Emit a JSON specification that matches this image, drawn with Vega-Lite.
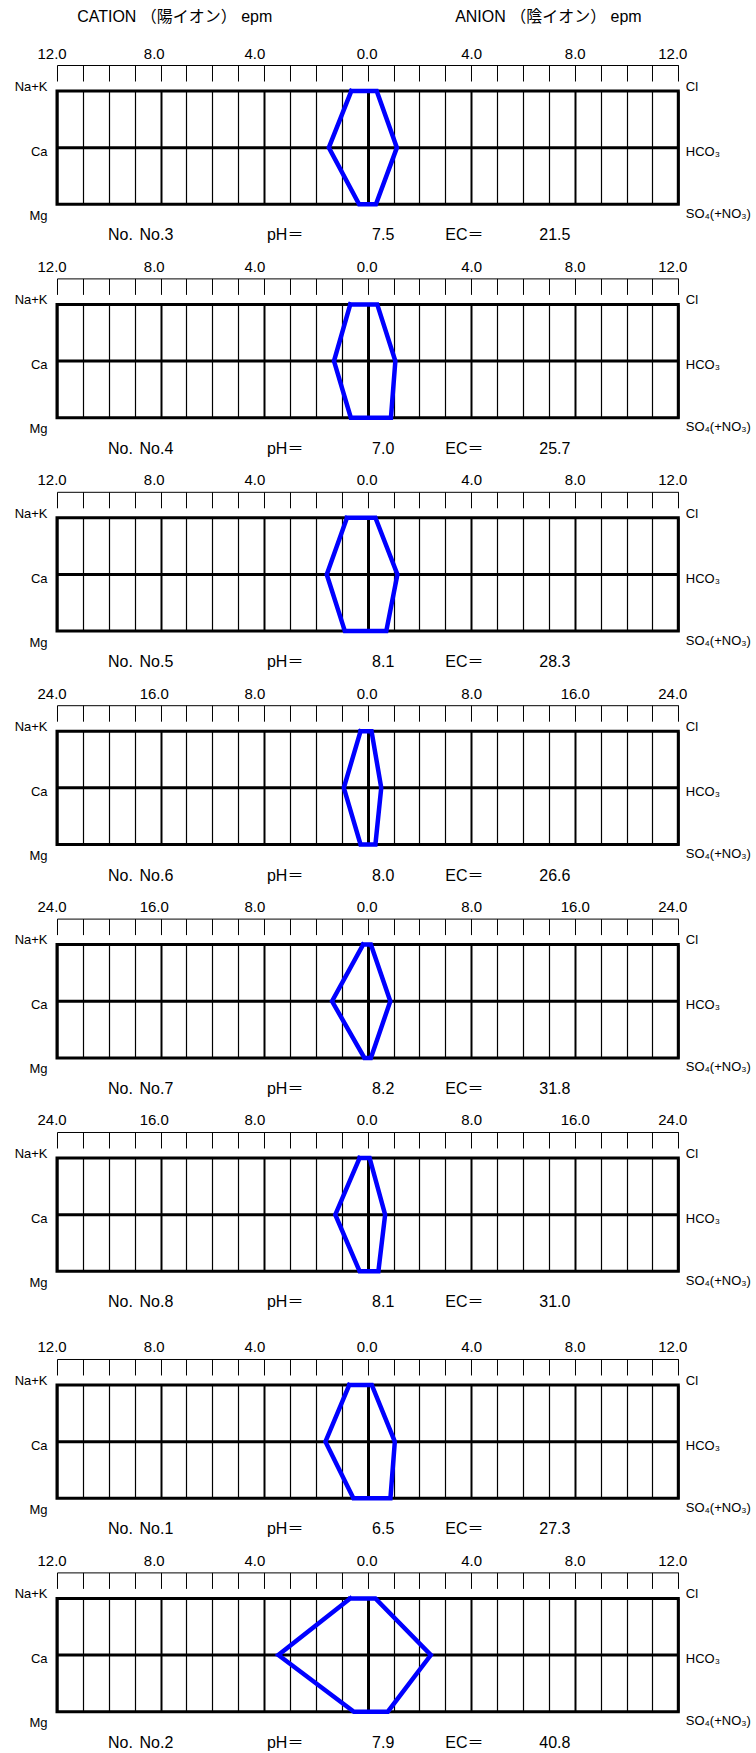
{
"$schema": "https://vega.github.io/schema/vega-lite/v6.json",
"padding": {"left": 12, "top": 7, "right": 5, "bottom": 5},
"datasets": {
"ions": [
{"panel":"No.3","ion":"Na+K","row":0,"epm":-0.63,"seq":1},{"panel":"No.3","ion":"Cl","row":0,"epm":0.35,"seq":2},{"panel":"No.3","ion":"HCO3","row":1,"epm":1.13,"seq":3},{"panel":"No.3","ion":"SO4","row":2,"epm":0.32,"seq":4},{"panel":"No.3","ion":"Mg","row":2,"epm":-0.33,"seq":5},{"panel":"No.3","ion":"Ca","row":1,"epm":-1.5,"seq":6},{"panel":"No.3","ion":"Na+K","row":0,"epm":-0.63,"seq":7},
{"panel":"No.4","ion":"Na+K","row":0,"epm":-0.67,"seq":1},{"panel":"No.4","ion":"Cl","row":0,"epm":0.37,"seq":2},{"panel":"No.4","ion":"HCO3","row":1,"epm":1.07,"seq":3},{"panel":"No.4","ion":"SO4","row":2,"epm":0.9,"seq":4},{"panel":"No.4","ion":"Mg","row":2,"epm":-0.65,"seq":5},{"panel":"No.4","ion":"Ca","row":1,"epm":-1.3,"seq":6},{"panel":"No.4","ion":"Na+K","row":0,"epm":-0.67,"seq":7},
{"panel":"No.5","ion":"Na+K","row":0,"epm":-0.8,"seq":1},{"panel":"No.5","ion":"Cl","row":0,"epm":0.3,"seq":2},{"panel":"No.5","ion":"HCO3","row":1,"epm":1.15,"seq":3},{"panel":"No.5","ion":"SO4","row":2,"epm":0.72,"seq":4},{"panel":"No.5","ion":"Mg","row":2,"epm":-0.88,"seq":5},{"panel":"No.5","ion":"Ca","row":1,"epm":-1.58,"seq":6},{"panel":"No.5","ion":"Na+K","row":0,"epm":-0.8,"seq":7},
{"panel":"No.6","ion":"Na+K","row":0,"epm":-0.55,"seq":1},{"panel":"No.6","ion":"Cl","row":0,"epm":0.3,"seq":2},{"panel":"No.6","ion":"HCO3","row":1,"epm":1.05,"seq":3},{"panel":"No.6","ion":"SO4","row":2,"epm":0.6,"seq":4},{"panel":"No.6","ion":"Mg","row":2,"epm":-0.55,"seq":5},{"panel":"No.6","ion":"Ca","row":1,"epm":-1.84,"seq":6},{"panel":"No.6","ion":"Na+K","row":0,"epm":-0.55,"seq":7},
{"panel":"No.7","ion":"Na+K","row":0,"epm":-0.35,"seq":1},{"panel":"No.7","ion":"Cl","row":0,"epm":0.25,"seq":2},{"panel":"No.7","ion":"HCO3","row":1,"epm":1.75,"seq":3},{"panel":"No.7","ion":"SO4","row":2,"epm":0.25,"seq":4},{"panel":"No.7","ion":"Mg","row":2,"epm":-0.25,"seq":5},{"panel":"No.7","ion":"Ca","row":1,"epm":-2.75,"seq":6},{"panel":"No.7","ion":"Na+K","row":0,"epm":-0.35,"seq":7},
{"panel":"No.8","ion":"Na+K","row":0,"epm":-0.62,"seq":1},{"panel":"No.8","ion":"Cl","row":0,"epm":0.15,"seq":2},{"panel":"No.8","ion":"HCO3","row":1,"epm":1.35,"seq":3},{"panel":"No.8","ion":"SO4","row":2,"epm":0.83,"seq":4},{"panel":"No.8","ion":"Mg","row":2,"epm":-0.62,"seq":5},{"panel":"No.8","ion":"Ca","row":1,"epm":-2.5,"seq":6},{"panel":"No.8","ion":"Na+K","row":0,"epm":-0.62,"seq":7},
{"panel":"No.1","ion":"Na+K","row":0,"epm":-0.71,"seq":1},{"panel":"No.1","ion":"Cl","row":0,"epm":0.16,"seq":2},{"panel":"No.1","ion":"HCO3","row":1,"epm":1.05,"seq":3},{"panel":"No.1","ion":"SO4","row":2,"epm":0.88,"seq":4},{"panel":"No.1","ion":"Mg","row":2,"epm":-0.55,"seq":5},{"panel":"No.1","ion":"Ca","row":1,"epm":-1.63,"seq":6},{"panel":"No.1","ion":"Na+K","row":0,"epm":-0.71,"seq":7},
{"panel":"No.2","ion":"Na+K","row":0,"epm":-0.67,"seq":1},{"panel":"No.2","ion":"Cl","row":0,"epm":0.3,"seq":2},{"panel":"No.2","ion":"HCO3","row":1,"epm":2.44,"seq":3},{"panel":"No.2","ion":"SO4","row":2,"epm":0.78,"seq":4},{"panel":"No.2","ion":"Mg","row":2,"epm":-0.53,"seq":5},{"panel":"No.2","ion":"Ca","row":1,"epm":-3.45,"seq":6},{"panel":"No.2","ion":"Na+K","row":0,"epm":-0.67,"seq":7}
],
"info": [
{"panel":"No.3","ph":7.5,"ec":21.5},
{"panel":"No.4","ph":7.0,"ec":25.7},
{"panel":"No.5","ph":8.1,"ec":28.3},
{"panel":"No.6","ph":8.0,"ec":26.6},
{"panel":"No.7","ph":8.2,"ec":31.8},
{"panel":"No.8","ph":8.1,"ec":31.0},
{"panel":"No.1","ph":6.5,"ec":27.3},
{"panel":"No.2","ph":7.9,"ec":40.8}
]
},
"config": {
"view": {"stroke": "black", "strokeWidth": 3},
"axis": {"labelFont": "'Liberation Sans', 'Noto Sans CJK JP', 'DejaVu Sans'", "labelColor": "black", "tickColor": "black", "domainColor": "black", "gridColor": "black", "gridOpacity": 1, "labelFlush": false, "labelBound": false, "labelOverlap": false},
"text": {"font": "'Liberation Sans', 'Noto Sans CJK JP', 'DejaVu Sans'", "color": "black", "fontSize": 16, "align": "left", "baseline": "middle"}
},
"spacing": 26,
"bounds": "full",
"vconcat": [
{"spacing": 99.4, "bounds": "flush", "vconcat": [

{"width": 621.3, "height": 113.3, "resolve": {"axis": {"x": "independent", "y": "independent"}},
"layer": [
{"data": {"name": "info"}, "transform": [{"filter": "datum.panel === 'No.3'"}],
"mark": {"type": "rule", "color": "black", "strokeWidth": 3}, "encoding": {"y": {"datum": 1, "type": "quantitative", "axis": {"orient": "right", "title": null, "values": [0,1,2], "ticks": false, "domain": false, "grid": false, "labelPadding": 7, "labelFontSize": 13, "labelExpr": "datum.value == 0 ? 'Cl' : datum.value == 1 ? 'HCO₃' : 'SO₄(+NO₃)'", "labelOffset": {"condition": [{"test": "datum.value == 0", "value": -4.7}, {"test": "datum.value == 1", "value": 3.7}], "value": 9}}}}},
{"data": {"name": "info"}, "transform": [{"filter": "datum.panel === 'No.3'"}],
"layer": [
{"mark": {"type": "text"}, "encoding": {"x": {"datum": -11.22, "type": "quantitative", "axis": null}, "y": {"datum": -1.3, "type": "quantitative", "axis": null}, "text": {"value": "CATION （陽イオン） epm"}}},
{"mark": {"type": "text"}, "encoding": {"x": {"datum": 3.38, "type": "quantitative", "axis": null}, "y": {"datum": -1.3, "type": "quantitative", "axis": null}, "text": {"value": "ANION （陰イオン） epm"}}},
{"mark": {"type": "text"}, "encoding": {"x": {"datum": -10.03, "type": "quantitative", "axis": null}, "y": {"datum": 2.55, "type": "quantitative", "axis": null}, "text": {"value": "No."}}},
{"mark": {"type": "text"}, "encoding": {"x": {"datum": -8.81, "type": "quantitative", "axis": null}, "y": {"datum": 2.55, "type": "quantitative", "axis": null}, "text": {"field": "panel"}}},
{"mark": {"type": "text"}, "encoding": {"x": {"datum": -3.89, "type": "quantitative", "axis": null}, "y": {"datum": 2.55, "type": "quantitative", "axis": null}, "text": {"value": "pH＝"}}},
{"mark": {"type": "text"}, "encoding": {"x": {"datum": 0.17, "type": "quantitative", "axis": null}, "y": {"datum": 2.55, "type": "quantitative", "axis": null}, "text": {"field": "ph", "format": ".1f"}}},
{"mark": {"type": "text"}, "encoding": {"x": {"datum": 3.0, "type": "quantitative", "axis": null}, "y": {"datum": 2.55, "type": "quantitative", "axis": null}, "text": {"value": "EC＝"}}},
{"mark": {"type": "text"}, "encoding": {"x": {"datum": 6.63, "type": "quantitative", "axis": null}, "y": {"datum": 2.55, "type": "quantitative", "axis": null}, "text": {"field": "ec", "format": ".1f"}}}
]},
{"data": {"name": "ions"}, "transform": [{"filter": "datum.panel === 'No.3'"}],
"mark": {"type": "line", "color": "#0000ff", "strokeWidth": 4.5, "strokeJoin": "miter", "strokeCap": "square"},
"encoding": {
"x": {"field": "epm", "type": "quantitative", "scale": {"domain": [-12, 12], "nice": false, "zero": false}, "axis": {"orient": "top", "title": null, "values": [-12,-11,-10,-9,-8,-7,-6,-5,-4,-3,-2,-1,0,1,2,3,4,5,6,7,8,9,10,11,12], "offset": 26, "tickSize": -16, "tickWidth": 1, "domainWidth": 1, "labelPadding": 20, "labelFontSize": 15, "labelExpr": "datum.value % 4 == 0 ? format(abs(datum.value), '.1f') : ''", "labelOffset": {"condition": [{"test": "datum.value == -12", "value": -5.4}, {"test": "datum.value == -8", "value": -6.8}, {"test": "datum.value == -4", "value": -9.7}, {"test": "datum.value == 0", "value": -1}, {"test": "datum.value == 12", "value": -6}], "value": 0}, "grid": true, "gridWidth": {"condition": [{"test": "datum.value == 0", "value": 3}, {"test": "datum.value % 4 == 0", "value": 2}], "value": 1.2}}},
"y": {"field": "row", "type": "quantitative", "scale": {"domain": [0, 2], "reverse": true, "nice": false, "zero": false}, "axis": {"orient": "left", "title": null, "values": [0,1,2], "ticks": false, "domain": false, "grid": false, "labelPadding": 10, "labelFontSize": 13, "labelExpr": "datum.value == 0 ? 'Na+K' : datum.value == 1 ? 'Ca' : 'Mg'", "labelOffset": {"condition": [{"test": "datum.value == 0", "value": -4.7}, {"test": "datum.value == 1", "value": 3.7}], "value": 11}}},
"order": {"field": "seq", "type": "quantitative"}
}}
]},

{"width": 621.3, "height": 113.3, "resolve": {"axis": {"x": "independent", "y": "independent"}},
"layer": [
{"data": {"name": "info"}, "transform": [{"filter": "datum.panel === 'No.4'"}],
"mark": {"type": "rule", "color": "black", "strokeWidth": 3}, "encoding": {"y": {"datum": 1, "type": "quantitative", "axis": {"orient": "right", "title": null, "values": [0,1,2], "ticks": false, "domain": false, "grid": false, "labelPadding": 7, "labelFontSize": 13, "labelExpr": "datum.value == 0 ? 'Cl' : datum.value == 1 ? 'HCO₃' : 'SO₄(+NO₃)'", "labelOffset": {"condition": [{"test": "datum.value == 0", "value": -4.7}, {"test": "datum.value == 1", "value": 3.7}], "value": 9}}}}},
{"data": {"name": "info"}, "transform": [{"filter": "datum.panel === 'No.4'"}],
"layer": [
{"mark": {"type": "text"}, "encoding": {"x": {"datum": -10.03, "type": "quantitative", "axis": null}, "y": {"datum": 2.55, "type": "quantitative", "axis": null}, "text": {"value": "No."}}},
{"mark": {"type": "text"}, "encoding": {"x": {"datum": -8.81, "type": "quantitative", "axis": null}, "y": {"datum": 2.55, "type": "quantitative", "axis": null}, "text": {"field": "panel"}}},
{"mark": {"type": "text"}, "encoding": {"x": {"datum": -3.89, "type": "quantitative", "axis": null}, "y": {"datum": 2.55, "type": "quantitative", "axis": null}, "text": {"value": "pH＝"}}},
{"mark": {"type": "text"}, "encoding": {"x": {"datum": 0.17, "type": "quantitative", "axis": null}, "y": {"datum": 2.55, "type": "quantitative", "axis": null}, "text": {"field": "ph", "format": ".1f"}}},
{"mark": {"type": "text"}, "encoding": {"x": {"datum": 3.0, "type": "quantitative", "axis": null}, "y": {"datum": 2.55, "type": "quantitative", "axis": null}, "text": {"value": "EC＝"}}},
{"mark": {"type": "text"}, "encoding": {"x": {"datum": 6.63, "type": "quantitative", "axis": null}, "y": {"datum": 2.55, "type": "quantitative", "axis": null}, "text": {"field": "ec", "format": ".1f"}}}
]},
{"data": {"name": "ions"}, "transform": [{"filter": "datum.panel === 'No.4'"}],
"mark": {"type": "line", "color": "#0000ff", "strokeWidth": 4.5, "strokeJoin": "miter", "strokeCap": "square"},
"encoding": {
"x": {"field": "epm", "type": "quantitative", "scale": {"domain": [-12, 12], "nice": false, "zero": false}, "axis": {"orient": "top", "title": null, "values": [-12,-11,-10,-9,-8,-7,-6,-5,-4,-3,-2,-1,0,1,2,3,4,5,6,7,8,9,10,11,12], "offset": 26, "tickSize": -16, "tickWidth": 1, "domainWidth": 1, "labelPadding": 20, "labelFontSize": 15, "labelExpr": "datum.value % 4 == 0 ? format(abs(datum.value), '.1f') : ''", "labelOffset": {"condition": [{"test": "datum.value == -12", "value": -5.4}, {"test": "datum.value == -8", "value": -6.8}, {"test": "datum.value == -4", "value": -9.7}, {"test": "datum.value == 0", "value": -1}, {"test": "datum.value == 12", "value": -6}], "value": 0}, "grid": true, "gridWidth": {"condition": [{"test": "datum.value == 0", "value": 3}, {"test": "datum.value % 4 == 0", "value": 2}], "value": 1.2}}},
"y": {"field": "row", "type": "quantitative", "scale": {"domain": [0, 2], "reverse": true, "nice": false, "zero": false}, "axis": {"orient": "left", "title": null, "values": [0,1,2], "ticks": false, "domain": false, "grid": false, "labelPadding": 10, "labelFontSize": 13, "labelExpr": "datum.value == 0 ? 'Na+K' : datum.value == 1 ? 'Ca' : 'Mg'", "labelOffset": {"condition": [{"test": "datum.value == 0", "value": -4.7}, {"test": "datum.value == 1", "value": 3.7}], "value": 11}}},
"order": {"field": "seq", "type": "quantitative"}
}}
]},

{"width": 621.3, "height": 113.3, "resolve": {"axis": {"x": "independent", "y": "independent"}},
"layer": [
{"data": {"name": "info"}, "transform": [{"filter": "datum.panel === 'No.5'"}],
"mark": {"type": "rule", "color": "black", "strokeWidth": 3}, "encoding": {"y": {"datum": 1, "type": "quantitative", "axis": {"orient": "right", "title": null, "values": [0,1,2], "ticks": false, "domain": false, "grid": false, "labelPadding": 7, "labelFontSize": 13, "labelExpr": "datum.value == 0 ? 'Cl' : datum.value == 1 ? 'HCO₃' : 'SO₄(+NO₃)'", "labelOffset": {"condition": [{"test": "datum.value == 0", "value": -4.7}, {"test": "datum.value == 1", "value": 3.7}], "value": 9}}}}},
{"data": {"name": "info"}, "transform": [{"filter": "datum.panel === 'No.5'"}],
"layer": [
{"mark": {"type": "text"}, "encoding": {"x": {"datum": -10.03, "type": "quantitative", "axis": null}, "y": {"datum": 2.55, "type": "quantitative", "axis": null}, "text": {"value": "No."}}},
{"mark": {"type": "text"}, "encoding": {"x": {"datum": -8.81, "type": "quantitative", "axis": null}, "y": {"datum": 2.55, "type": "quantitative", "axis": null}, "text": {"field": "panel"}}},
{"mark": {"type": "text"}, "encoding": {"x": {"datum": -3.89, "type": "quantitative", "axis": null}, "y": {"datum": 2.55, "type": "quantitative", "axis": null}, "text": {"value": "pH＝"}}},
{"mark": {"type": "text"}, "encoding": {"x": {"datum": 0.17, "type": "quantitative", "axis": null}, "y": {"datum": 2.55, "type": "quantitative", "axis": null}, "text": {"field": "ph", "format": ".1f"}}},
{"mark": {"type": "text"}, "encoding": {"x": {"datum": 3.0, "type": "quantitative", "axis": null}, "y": {"datum": 2.55, "type": "quantitative", "axis": null}, "text": {"value": "EC＝"}}},
{"mark": {"type": "text"}, "encoding": {"x": {"datum": 6.63, "type": "quantitative", "axis": null}, "y": {"datum": 2.55, "type": "quantitative", "axis": null}, "text": {"field": "ec", "format": ".1f"}}}
]},
{"data": {"name": "ions"}, "transform": [{"filter": "datum.panel === 'No.5'"}],
"mark": {"type": "line", "color": "#0000ff", "strokeWidth": 4.5, "strokeJoin": "miter", "strokeCap": "square"},
"encoding": {
"x": {"field": "epm", "type": "quantitative", "scale": {"domain": [-12, 12], "nice": false, "zero": false}, "axis": {"orient": "top", "title": null, "values": [-12,-11,-10,-9,-8,-7,-6,-5,-4,-3,-2,-1,0,1,2,3,4,5,6,7,8,9,10,11,12], "offset": 26, "tickSize": -16, "tickWidth": 1, "domainWidth": 1, "labelPadding": 20, "labelFontSize": 15, "labelExpr": "datum.value % 4 == 0 ? format(abs(datum.value), '.1f') : ''", "labelOffset": {"condition": [{"test": "datum.value == -12", "value": -5.4}, {"test": "datum.value == -8", "value": -6.8}, {"test": "datum.value == -4", "value": -9.7}, {"test": "datum.value == 0", "value": -1}, {"test": "datum.value == 12", "value": -6}], "value": 0}, "grid": true, "gridWidth": {"condition": [{"test": "datum.value == 0", "value": 3}, {"test": "datum.value % 4 == 0", "value": 2}], "value": 1.2}}},
"y": {"field": "row", "type": "quantitative", "scale": {"domain": [0, 2], "reverse": true, "nice": false, "zero": false}, "axis": {"orient": "left", "title": null, "values": [0,1,2], "ticks": false, "domain": false, "grid": false, "labelPadding": 10, "labelFontSize": 13, "labelExpr": "datum.value == 0 ? 'Na+K' : datum.value == 1 ? 'Ca' : 'Mg'", "labelOffset": {"condition": [{"test": "datum.value == 0", "value": -4.7}, {"test": "datum.value == 1", "value": 3.7}], "value": 11}}},
"order": {"field": "seq", "type": "quantitative"}
}}
]},

{"width": 621.3, "height": 113.3, "resolve": {"axis": {"x": "independent", "y": "independent"}},
"layer": [
{"data": {"name": "info"}, "transform": [{"filter": "datum.panel === 'No.6'"}],
"mark": {"type": "rule", "color": "black", "strokeWidth": 3}, "encoding": {"y": {"datum": 1, "type": "quantitative", "axis": {"orient": "right", "title": null, "values": [0,1,2], "ticks": false, "domain": false, "grid": false, "labelPadding": 7, "labelFontSize": 13, "labelExpr": "datum.value == 0 ? 'Cl' : datum.value == 1 ? 'HCO₃' : 'SO₄(+NO₃)'", "labelOffset": {"condition": [{"test": "datum.value == 0", "value": -4.7}, {"test": "datum.value == 1", "value": 3.7}], "value": 9}}}}},
{"data": {"name": "info"}, "transform": [{"filter": "datum.panel === 'No.6'"}],
"layer": [
{"mark": {"type": "text"}, "encoding": {"x": {"datum": -20.06, "type": "quantitative", "axis": null}, "y": {"datum": 2.55, "type": "quantitative", "axis": null}, "text": {"value": "No."}}},
{"mark": {"type": "text"}, "encoding": {"x": {"datum": -17.62, "type": "quantitative", "axis": null}, "y": {"datum": 2.55, "type": "quantitative", "axis": null}, "text": {"field": "panel"}}},
{"mark": {"type": "text"}, "encoding": {"x": {"datum": -7.78, "type": "quantitative", "axis": null}, "y": {"datum": 2.55, "type": "quantitative", "axis": null}, "text": {"value": "pH＝"}}},
{"mark": {"type": "text"}, "encoding": {"x": {"datum": 0.34, "type": "quantitative", "axis": null}, "y": {"datum": 2.55, "type": "quantitative", "axis": null}, "text": {"field": "ph", "format": ".1f"}}},
{"mark": {"type": "text"}, "encoding": {"x": {"datum": 6.0, "type": "quantitative", "axis": null}, "y": {"datum": 2.55, "type": "quantitative", "axis": null}, "text": {"value": "EC＝"}}},
{"mark": {"type": "text"}, "encoding": {"x": {"datum": 13.26, "type": "quantitative", "axis": null}, "y": {"datum": 2.55, "type": "quantitative", "axis": null}, "text": {"field": "ec", "format": ".1f"}}}
]},
{"data": {"name": "ions"}, "transform": [{"filter": "datum.panel === 'No.6'"}],
"mark": {"type": "line", "color": "#0000ff", "strokeWidth": 4.5, "strokeJoin": "miter", "strokeCap": "square"},
"encoding": {
"x": {"field": "epm", "type": "quantitative", "scale": {"domain": [-24, 24], "nice": false, "zero": false}, "axis": {"orient": "top", "title": null, "values": [-24,-22,-20,-18,-16,-14,-12,-10,-8,-6,-4,-2,0,2,4,6,8,10,12,14,16,18,20,22,24], "offset": 26, "tickSize": -16, "tickWidth": 1, "domainWidth": 1, "labelPadding": 20, "labelFontSize": 15, "labelExpr": "datum.value % 8 == 0 ? format(abs(datum.value), '.1f') : ''", "labelOffset": {"condition": [{"test": "datum.value == -24", "value": -5.4}, {"test": "datum.value == -16", "value": -6.8}, {"test": "datum.value == -8", "value": -9.7}, {"test": "datum.value == 0", "value": -1}, {"test": "datum.value == 24", "value": -6}], "value": 0}, "grid": true, "gridWidth": {"condition": [{"test": "datum.value == 0", "value": 3}, {"test": "datum.value % 8 == 0", "value": 2}], "value": 1.2}}},
"y": {"field": "row", "type": "quantitative", "scale": {"domain": [0, 2], "reverse": true, "nice": false, "zero": false}, "axis": {"orient": "left", "title": null, "values": [0,1,2], "ticks": false, "domain": false, "grid": false, "labelPadding": 10, "labelFontSize": 13, "labelExpr": "datum.value == 0 ? 'Na+K' : datum.value == 1 ? 'Ca' : 'Mg'", "labelOffset": {"condition": [{"test": "datum.value == 0", "value": -4.7}, {"test": "datum.value == 1", "value": 3.7}], "value": 11}}},
"order": {"field": "seq", "type": "quantitative"}
}}
]},

{"width": 621.3, "height": 113.3, "resolve": {"axis": {"x": "independent", "y": "independent"}},
"layer": [
{"data": {"name": "info"}, "transform": [{"filter": "datum.panel === 'No.7'"}],
"mark": {"type": "rule", "color": "black", "strokeWidth": 3}, "encoding": {"y": {"datum": 1, "type": "quantitative", "axis": {"orient": "right", "title": null, "values": [0,1,2], "ticks": false, "domain": false, "grid": false, "labelPadding": 7, "labelFontSize": 13, "labelExpr": "datum.value == 0 ? 'Cl' : datum.value == 1 ? 'HCO₃' : 'SO₄(+NO₃)'", "labelOffset": {"condition": [{"test": "datum.value == 0", "value": -4.7}, {"test": "datum.value == 1", "value": 3.7}], "value": 9}}}}},
{"data": {"name": "info"}, "transform": [{"filter": "datum.panel === 'No.7'"}],
"layer": [
{"mark": {"type": "text"}, "encoding": {"x": {"datum": -20.06, "type": "quantitative", "axis": null}, "y": {"datum": 2.55, "type": "quantitative", "axis": null}, "text": {"value": "No."}}},
{"mark": {"type": "text"}, "encoding": {"x": {"datum": -17.62, "type": "quantitative", "axis": null}, "y": {"datum": 2.55, "type": "quantitative", "axis": null}, "text": {"field": "panel"}}},
{"mark": {"type": "text"}, "encoding": {"x": {"datum": -7.78, "type": "quantitative", "axis": null}, "y": {"datum": 2.55, "type": "quantitative", "axis": null}, "text": {"value": "pH＝"}}},
{"mark": {"type": "text"}, "encoding": {"x": {"datum": 0.34, "type": "quantitative", "axis": null}, "y": {"datum": 2.55, "type": "quantitative", "axis": null}, "text": {"field": "ph", "format": ".1f"}}},
{"mark": {"type": "text"}, "encoding": {"x": {"datum": 6.0, "type": "quantitative", "axis": null}, "y": {"datum": 2.55, "type": "quantitative", "axis": null}, "text": {"value": "EC＝"}}},
{"mark": {"type": "text"}, "encoding": {"x": {"datum": 13.26, "type": "quantitative", "axis": null}, "y": {"datum": 2.55, "type": "quantitative", "axis": null}, "text": {"field": "ec", "format": ".1f"}}}
]},
{"data": {"name": "ions"}, "transform": [{"filter": "datum.panel === 'No.7'"}],
"mark": {"type": "line", "color": "#0000ff", "strokeWidth": 4.5, "strokeJoin": "miter", "strokeCap": "square"},
"encoding": {
"x": {"field": "epm", "type": "quantitative", "scale": {"domain": [-24, 24], "nice": false, "zero": false}, "axis": {"orient": "top", "title": null, "values": [-24,-22,-20,-18,-16,-14,-12,-10,-8,-6,-4,-2,0,2,4,6,8,10,12,14,16,18,20,22,24], "offset": 26, "tickSize": -16, "tickWidth": 1, "domainWidth": 1, "labelPadding": 20, "labelFontSize": 15, "labelExpr": "datum.value % 8 == 0 ? format(abs(datum.value), '.1f') : ''", "labelOffset": {"condition": [{"test": "datum.value == -24", "value": -5.4}, {"test": "datum.value == -16", "value": -6.8}, {"test": "datum.value == -8", "value": -9.7}, {"test": "datum.value == 0", "value": -1}, {"test": "datum.value == 24", "value": -6}], "value": 0}, "grid": true, "gridWidth": {"condition": [{"test": "datum.value == 0", "value": 3}, {"test": "datum.value % 8 == 0", "value": 2}], "value": 1.2}}},
"y": {"field": "row", "type": "quantitative", "scale": {"domain": [0, 2], "reverse": true, "nice": false, "zero": false}, "axis": {"orient": "left", "title": null, "values": [0,1,2], "ticks": false, "domain": false, "grid": false, "labelPadding": 10, "labelFontSize": 13, "labelExpr": "datum.value == 0 ? 'Na+K' : datum.value == 1 ? 'Ca' : 'Mg'", "labelOffset": {"condition": [{"test": "datum.value == 0", "value": -4.7}, {"test": "datum.value == 1", "value": 3.7}], "value": 11}}},
"order": {"field": "seq", "type": "quantitative"}
}}
]},

{"width": 621.3, "height": 113.3, "resolve": {"axis": {"x": "independent", "y": "independent"}},
"layer": [
{"data": {"name": "info"}, "transform": [{"filter": "datum.panel === 'No.8'"}],
"mark": {"type": "rule", "color": "black", "strokeWidth": 3}, "encoding": {"y": {"datum": 1, "type": "quantitative", "axis": {"orient": "right", "title": null, "values": [0,1,2], "ticks": false, "domain": false, "grid": false, "labelPadding": 7, "labelFontSize": 13, "labelExpr": "datum.value == 0 ? 'Cl' : datum.value == 1 ? 'HCO₃' : 'SO₄(+NO₃)'", "labelOffset": {"condition": [{"test": "datum.value == 0", "value": -4.7}, {"test": "datum.value == 1", "value": 3.7}], "value": 9}}}}},
{"data": {"name": "info"}, "transform": [{"filter": "datum.panel === 'No.8'"}],
"layer": [
{"mark": {"type": "text"}, "encoding": {"x": {"datum": -20.06, "type": "quantitative", "axis": null}, "y": {"datum": 2.55, "type": "quantitative", "axis": null}, "text": {"value": "No."}}},
{"mark": {"type": "text"}, "encoding": {"x": {"datum": -17.62, "type": "quantitative", "axis": null}, "y": {"datum": 2.55, "type": "quantitative", "axis": null}, "text": {"field": "panel"}}},
{"mark": {"type": "text"}, "encoding": {"x": {"datum": -7.78, "type": "quantitative", "axis": null}, "y": {"datum": 2.55, "type": "quantitative", "axis": null}, "text": {"value": "pH＝"}}},
{"mark": {"type": "text"}, "encoding": {"x": {"datum": 0.34, "type": "quantitative", "axis": null}, "y": {"datum": 2.55, "type": "quantitative", "axis": null}, "text": {"field": "ph", "format": ".1f"}}},
{"mark": {"type": "text"}, "encoding": {"x": {"datum": 6.0, "type": "quantitative", "axis": null}, "y": {"datum": 2.55, "type": "quantitative", "axis": null}, "text": {"value": "EC＝"}}},
{"mark": {"type": "text"}, "encoding": {"x": {"datum": 13.26, "type": "quantitative", "axis": null}, "y": {"datum": 2.55, "type": "quantitative", "axis": null}, "text": {"field": "ec", "format": ".1f"}}}
]},
{"data": {"name": "ions"}, "transform": [{"filter": "datum.panel === 'No.8'"}],
"mark": {"type": "line", "color": "#0000ff", "strokeWidth": 4.5, "strokeJoin": "miter", "strokeCap": "square"},
"encoding": {
"x": {"field": "epm", "type": "quantitative", "scale": {"domain": [-24, 24], "nice": false, "zero": false}, "axis": {"orient": "top", "title": null, "values": [-24,-22,-20,-18,-16,-14,-12,-10,-8,-6,-4,-2,0,2,4,6,8,10,12,14,16,18,20,22,24], "offset": 26, "tickSize": -16, "tickWidth": 1, "domainWidth": 1, "labelPadding": 20, "labelFontSize": 15, "labelExpr": "datum.value % 8 == 0 ? format(abs(datum.value), '.1f') : ''", "labelOffset": {"condition": [{"test": "datum.value == -24", "value": -5.4}, {"test": "datum.value == -16", "value": -6.8}, {"test": "datum.value == -8", "value": -9.7}, {"test": "datum.value == 0", "value": -1}, {"test": "datum.value == 24", "value": -6}], "value": 0}, "grid": true, "gridWidth": {"condition": [{"test": "datum.value == 0", "value": 3}, {"test": "datum.value % 8 == 0", "value": 2}], "value": 1.2}}},
"y": {"field": "row", "type": "quantitative", "scale": {"domain": [0, 2], "reverse": true, "nice": false, "zero": false}, "axis": {"orient": "left", "title": null, "values": [0,1,2], "ticks": false, "domain": false, "grid": false, "labelPadding": 10, "labelFontSize": 13, "labelExpr": "datum.value == 0 ? 'Na+K' : datum.value == 1 ? 'Ca' : 'Mg'", "labelOffset": {"condition": [{"test": "datum.value == 0", "value": -4.7}, {"test": "datum.value == 1", "value": 3.7}], "value": 11}}},
"order": {"field": "seq", "type": "quantitative"}
}}
]}
]},

{"spacing": 99.4, "bounds": "flush", "vconcat": [

{"width": 621.3, "height": 113.3, "resolve": {"axis": {"x": "independent", "y": "independent"}},
"layer": [
{"data": {"name": "info"}, "transform": [{"filter": "datum.panel === 'No.1'"}],
"mark": {"type": "rule", "color": "black", "strokeWidth": 3}, "encoding": {"y": {"datum": 1, "type": "quantitative", "axis": {"orient": "right", "title": null, "values": [0,1,2], "ticks": false, "domain": false, "grid": false, "labelPadding": 7, "labelFontSize": 13, "labelExpr": "datum.value == 0 ? 'Cl' : datum.value == 1 ? 'HCO₃' : 'SO₄(+NO₃)'", "labelOffset": {"condition": [{"test": "datum.value == 0", "value": -4.7}, {"test": "datum.value == 1", "value": 3.7}], "value": 9}}}}},
{"data": {"name": "info"}, "transform": [{"filter": "datum.panel === 'No.1'"}],
"layer": [
{"mark": {"type": "text"}, "encoding": {"x": {"datum": -10.03, "type": "quantitative", "axis": null}, "y": {"datum": 2.55, "type": "quantitative", "axis": null}, "text": {"value": "No."}}},
{"mark": {"type": "text"}, "encoding": {"x": {"datum": -8.81, "type": "quantitative", "axis": null}, "y": {"datum": 2.55, "type": "quantitative", "axis": null}, "text": {"field": "panel"}}},
{"mark": {"type": "text"}, "encoding": {"x": {"datum": -3.89, "type": "quantitative", "axis": null}, "y": {"datum": 2.55, "type": "quantitative", "axis": null}, "text": {"value": "pH＝"}}},
{"mark": {"type": "text"}, "encoding": {"x": {"datum": 0.17, "type": "quantitative", "axis": null}, "y": {"datum": 2.55, "type": "quantitative", "axis": null}, "text": {"field": "ph", "format": ".1f"}}},
{"mark": {"type": "text"}, "encoding": {"x": {"datum": 3.0, "type": "quantitative", "axis": null}, "y": {"datum": 2.55, "type": "quantitative", "axis": null}, "text": {"value": "EC＝"}}},
{"mark": {"type": "text"}, "encoding": {"x": {"datum": 6.63, "type": "quantitative", "axis": null}, "y": {"datum": 2.55, "type": "quantitative", "axis": null}, "text": {"field": "ec", "format": ".1f"}}}
]},
{"data": {"name": "ions"}, "transform": [{"filter": "datum.panel === 'No.1'"}],
"mark": {"type": "line", "color": "#0000ff", "strokeWidth": 4.5, "strokeJoin": "miter", "strokeCap": "square"},
"encoding": {
"x": {"field": "epm", "type": "quantitative", "scale": {"domain": [-12, 12], "nice": false, "zero": false}, "axis": {"orient": "top", "title": null, "values": [-12,-11,-10,-9,-8,-7,-6,-5,-4,-3,-2,-1,0,1,2,3,4,5,6,7,8,9,10,11,12], "offset": 26, "tickSize": -16, "tickWidth": 1, "domainWidth": 1, "labelPadding": 20, "labelFontSize": 15, "labelExpr": "datum.value % 4 == 0 ? format(abs(datum.value), '.1f') : ''", "labelOffset": {"condition": [{"test": "datum.value == -12", "value": -5.4}, {"test": "datum.value == -8", "value": -6.8}, {"test": "datum.value == -4", "value": -9.7}, {"test": "datum.value == 0", "value": -1}, {"test": "datum.value == 12", "value": -6}], "value": 0}, "grid": true, "gridWidth": {"condition": [{"test": "datum.value == 0", "value": 3}, {"test": "datum.value % 4 == 0", "value": 2}], "value": 1.2}}},
"y": {"field": "row", "type": "quantitative", "scale": {"domain": [0, 2], "reverse": true, "nice": false, "zero": false}, "axis": {"orient": "left", "title": null, "values": [0,1,2], "ticks": false, "domain": false, "grid": false, "labelPadding": 10, "labelFontSize": 13, "labelExpr": "datum.value == 0 ? 'Na+K' : datum.value == 1 ? 'Ca' : 'Mg'", "labelOffset": {"condition": [{"test": "datum.value == 0", "value": -4.7}, {"test": "datum.value == 1", "value": 3.7}], "value": 11}}},
"order": {"field": "seq", "type": "quantitative"}
}}
]},

{"width": 621.3, "height": 113.3, "resolve": {"axis": {"x": "independent", "y": "independent"}},
"layer": [
{"data": {"name": "info"}, "transform": [{"filter": "datum.panel === 'No.2'"}],
"mark": {"type": "rule", "color": "black", "strokeWidth": 3}, "encoding": {"y": {"datum": 1, "type": "quantitative", "axis": {"orient": "right", "title": null, "values": [0,1,2], "ticks": false, "domain": false, "grid": false, "labelPadding": 7, "labelFontSize": 13, "labelExpr": "datum.value == 0 ? 'Cl' : datum.value == 1 ? 'HCO₃' : 'SO₄(+NO₃)'", "labelOffset": {"condition": [{"test": "datum.value == 0", "value": -4.7}, {"test": "datum.value == 1", "value": 3.7}], "value": 9}}}}},
{"data": {"name": "info"}, "transform": [{"filter": "datum.panel === 'No.2'"}],
"layer": [
{"mark": {"type": "text"}, "encoding": {"x": {"datum": -10.03, "type": "quantitative", "axis": null}, "y": {"datum": 2.55, "type": "quantitative", "axis": null}, "text": {"value": "No."}}},
{"mark": {"type": "text"}, "encoding": {"x": {"datum": -8.81, "type": "quantitative", "axis": null}, "y": {"datum": 2.55, "type": "quantitative", "axis": null}, "text": {"field": "panel"}}},
{"mark": {"type": "text"}, "encoding": {"x": {"datum": -3.89, "type": "quantitative", "axis": null}, "y": {"datum": 2.55, "type": "quantitative", "axis": null}, "text": {"value": "pH＝"}}},
{"mark": {"type": "text"}, "encoding": {"x": {"datum": 0.17, "type": "quantitative", "axis": null}, "y": {"datum": 2.55, "type": "quantitative", "axis": null}, "text": {"field": "ph", "format": ".1f"}}},
{"mark": {"type": "text"}, "encoding": {"x": {"datum": 3.0, "type": "quantitative", "axis": null}, "y": {"datum": 2.55, "type": "quantitative", "axis": null}, "text": {"value": "EC＝"}}},
{"mark": {"type": "text"}, "encoding": {"x": {"datum": 6.63, "type": "quantitative", "axis": null}, "y": {"datum": 2.55, "type": "quantitative", "axis": null}, "text": {"field": "ec", "format": ".1f"}}}
]},
{"data": {"name": "ions"}, "transform": [{"filter": "datum.panel === 'No.2'"}],
"mark": {"type": "line", "color": "#0000ff", "strokeWidth": 4.5, "strokeJoin": "miter", "strokeCap": "square"},
"encoding": {
"x": {"field": "epm", "type": "quantitative", "scale": {"domain": [-12, 12], "nice": false, "zero": false}, "axis": {"orient": "top", "title": null, "values": [-12,-11,-10,-9,-8,-7,-6,-5,-4,-3,-2,-1,0,1,2,3,4,5,6,7,8,9,10,11,12], "offset": 26, "tickSize": -16, "tickWidth": 1, "domainWidth": 1, "labelPadding": 20, "labelFontSize": 15, "labelExpr": "datum.value % 4 == 0 ? format(abs(datum.value), '.1f') : ''", "labelOffset": {"condition": [{"test": "datum.value == -12", "value": -5.4}, {"test": "datum.value == -8", "value": -6.8}, {"test": "datum.value == -4", "value": -9.7}, {"test": "datum.value == 0", "value": -1}, {"test": "datum.value == 12", "value": -6}], "value": 0}, "grid": true, "gridWidth": {"condition": [{"test": "datum.value == 0", "value": 3}, {"test": "datum.value % 4 == 0", "value": 2}], "value": 1.2}}},
"y": {"field": "row", "type": "quantitative", "scale": {"domain": [0, 2], "reverse": true, "nice": false, "zero": false}, "axis": {"orient": "left", "title": null, "values": [0,1,2], "ticks": false, "domain": false, "grid": false, "labelPadding": 10, "labelFontSize": 13, "labelExpr": "datum.value == 0 ? 'Na+K' : datum.value == 1 ? 'Ca' : 'Mg'", "labelOffset": {"condition": [{"test": "datum.value == 0", "value": -4.7}, {"test": "datum.value == 1", "value": 3.7}], "value": 11}}},
"order": {"field": "seq", "type": "quantitative"}
}}
]}
]}
]
}
